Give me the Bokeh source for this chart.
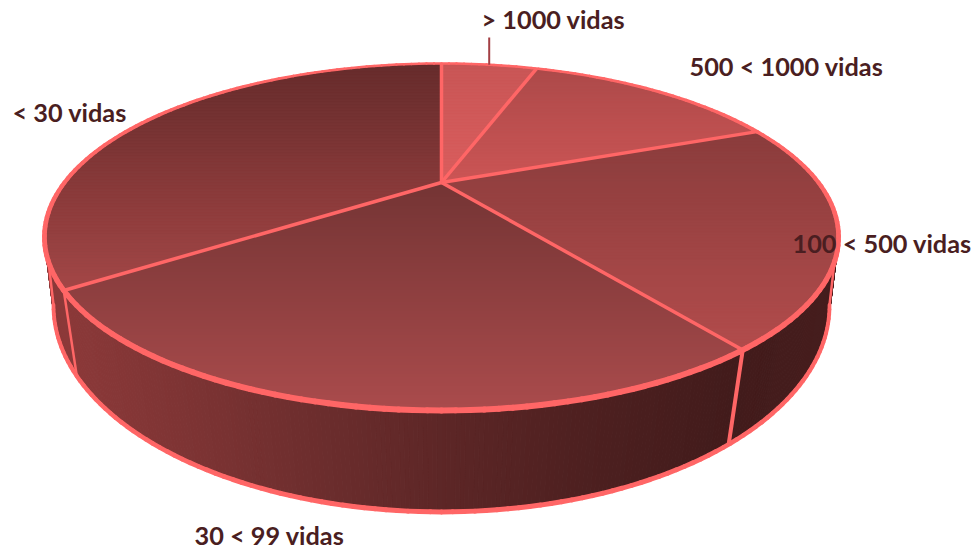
import numpy as np
from bokeh.plotting import figure
from bokeh.models import Range1d
from bokeh.core.properties import value
from bokeh.embed import file_html
from bokeh.resources import INLINE

# ---- data (clockwise from 12 o'clock)
categories = ["> 1000 vidas", "500 < 1000 vidas", "100 < 500 vidas", "30 < 99 vidas", "< 30 vidas"]
shares = [5.3, 13.8, 20.7, 25.6, 34.6]

# ---- layout / style
label_x = [481, 689, 792, 194, 12]
label_y = [18.5, 65.5, 242.5, 534.5, 111.5]
TEXT = "#4A1E21"
EDGE = "#FF6666"
# top-face colours: (colour at slice's upper end, colour at its lower end)
top_cols = [((0xC8, 0x56, 0x56), (0xDA, 0x5E, 0x5E)),
            ((0xAC, 0x4A, 0x4A), (0xCC, 0x55, 0x55)),
            ((0x8A, 0x3C, 0x3C), (0xB2, 0x4C, 0x4C)),
            ((0x74, 0x34, 0x34), (0xAA, 0x4B, 0x4C)),
            ((0x66, 0x2C, 0x2C), (0xA4, 0x46, 0x46))]
CX = 441.0
TOP = dict(a=377.0, b=156.4, y0=182.0, k=0.314)
BOT = dict(a=372.5, b=190.0, y0=247.5, k=0.28)


def proj(theta, plane):
    u, v = np.sin(theta), np.cos(theta)
    d = 1 + plane["k"] * v
    return CX + plane["a"] * u / d, plane["y0"] - plane["b"] * v / d


def hexc(c):
    return "#%02X%02X%02X" % tuple(int(round(max(0, min(255, q)))) for q in c)


def mix(c0, c1, t):
    t = max(0.0, min(1.0, t))
    return [c0[i] + (c1[i] - c0[i]) * t for i in range(3)]


def clip_band(poly, lo, hi):
    def clip(pts, inside, cross):
        out = []
        for i in range(len(pts)):
            a, b = pts[i], pts[(i + 1) % len(pts)]
            ia, ib = inside(a), inside(b)
            if ia:
                out.append(a)
            if ia != ib:
                out.append(cross(a, b))
        return out

    def cross_at(yv):
        return lambda a, b: (a[0] + (b[0] - a[0]) * (yv - a[1]) / (b[1] - a[1]), yv)

    pts = clip(poly, lambda p: p[1] >= lo, cross_at(lo))
    if pts:
        pts = clip(pts, lambda p: p[1] <= hi, cross_at(hi))
    return pts


def graded_arc(plane, t0, t1, w_back, w_front, n):
    th = np.linspace(t0, t1, n + 1)
    xs, ys = proj(th, plane)
    mids = (th[:-1] + th[1:]) / 2
    widths = w_back + (w_front - w_back) * (1 - np.cos(mids)) / 2
    p.multi_line([[xs[i], xs[i + 1]] for i in range(n)], [[ys[i], ys[i + 1]] for i in range(n)],
                 line_color=EDGE, line_width=list(widths), line_cap="round")


fractions = np.array(shares) / sum(shares)
edges = np.concatenate([[0], np.cumsum(fractions)]) * 2 * np.pi

p = figure(width=974, height=551, x_range=Range1d(0, 974), y_range=Range1d(551, 0),
           x_axis_type=None, y_axis_type=None, toolbar_location=None,
           output_backend="svg", min_border=0, outline_line_color=None,
           background_fill_color="white", border_fill_color="white")

# ---- walls: silhouette angles on the visible front
vis0, vis1 = np.radians(106), np.radians(254)
wx, wy, wc = [], [], []
ths = np.arange(vis0, vis1, np.radians(0.5))
wall_stops = [(60, (0x8C, 0x39, 0x39)), (200, (0x7C, 0x33, 0x33)), (320, (0x6C, 0x2D, 0x2D)),
              (450, (0x5C, 0x26, 0x26)), (580, (0x4E, 0x20, 0x20)), (730, (0x42, 0x1B, 0x1B)),
              (840, (0x46, 0x1D, 0x1D))]
sx = [s[0] for s in wall_stops]
for t0 in ths:
    t1 = t0 + np.radians(0.5)
    x0, y0 = proj(t0, TOP)
    x1, y1 = proj(t1, TOP)
    x2, y2 = proj(t1, BOT)
    x3, y3 = proj(t0, BOT)
    xm = (x0 + x1 + x2 + x3) / 4
    c = [np.interp(xm, sx, [s[1][i] for s in wall_stops]) for i in range(3)]
    wx.append([x0, x1, x2, x3])
    wy.append([y0, y1, y2, y3])
    wc.append(hexc(c))
p.patches(wx, wy, fill_color=wc, line_color=wc, line_width=1)

# wall separators
for e, w in zip(edges[3:5], [4, 2.5]):
    tx, ty = proj(e, TOP)
    bx, by = proj(e, BOT)
    p.line([tx, bx], [ty, by], line_color=EDGE, line_width=w)

# wall silhouette
tx0, ty0 = proj(vis0, TOP)
tx1, ty1 = proj(vis1, TOP)
bx0, by0 = proj(vis0, BOT)
bx1, by1 = proj(vis1, BOT)
p.line([tx0, bx0], [ty0, by0], line_color=EDGE, line_width=2.5)
p.line([tx1, bx1], [ty1, by1], line_color=EDGE, line_width=2.5)
graded_arc(BOT, vis0, vis1, 1.5, 5.0, 120)

# ---- top face: vertical gradient per slice
fx, fy, fc = [], [], []
for i in range(len(shares)):
    th = np.linspace(edges[i], edges[i + 1], max(8, int(np.degrees(edges[i + 1] - edges[i]))))
    ax, ay = proj(th, TOP)
    poly = [(CX, TOP["y0"])] + list(zip(ax, ay))
    ylo, yhi = min(q[1] for q in poly), max(q[1] for q in poly)
    step = 3.0
    y = ylo
    while y < yhi:
        band = clip_band(poly, y, y + step)
        if len(band) >= 3:
            col = hexc(mix(top_cols[i][0], top_cols[i][1], (y + step / 2 - ylo) / (yhi - ylo)))
            fx.append([q[0] for q in band])
            fy.append([q[1] for q in band])
            fc.append(col)
        y += step
p.patches(fx, fy, fill_color=fc, line_color=fc, line_width=1)

# top separators and rim
for e in edges[:-1]:
    ex, ey = proj(e, TOP)
    p.line([CX, ex], [TOP["y0"], ey], line_color=EDGE, line_width=3.5)
graded_arc(TOP, 0, 2 * np.pi, 2.5, 6.0, 240)

# leader for the smallest slice
mid = (edges[0] + edges[1]) / 2
lx, ly = proj(mid, TOP)
p.line([lx, lx], [37, ly], line_color="#A33F44", line_width=2)

# labels
p.text(label_x, label_y, text=categories, text_font=value("Lato"), text_font_style="bold",
       text_font_size="25.3px", text_color=TEXT, text_align="left", text_baseline="middle")

open("out.html", "w").write(file_html(p, INLINE))
